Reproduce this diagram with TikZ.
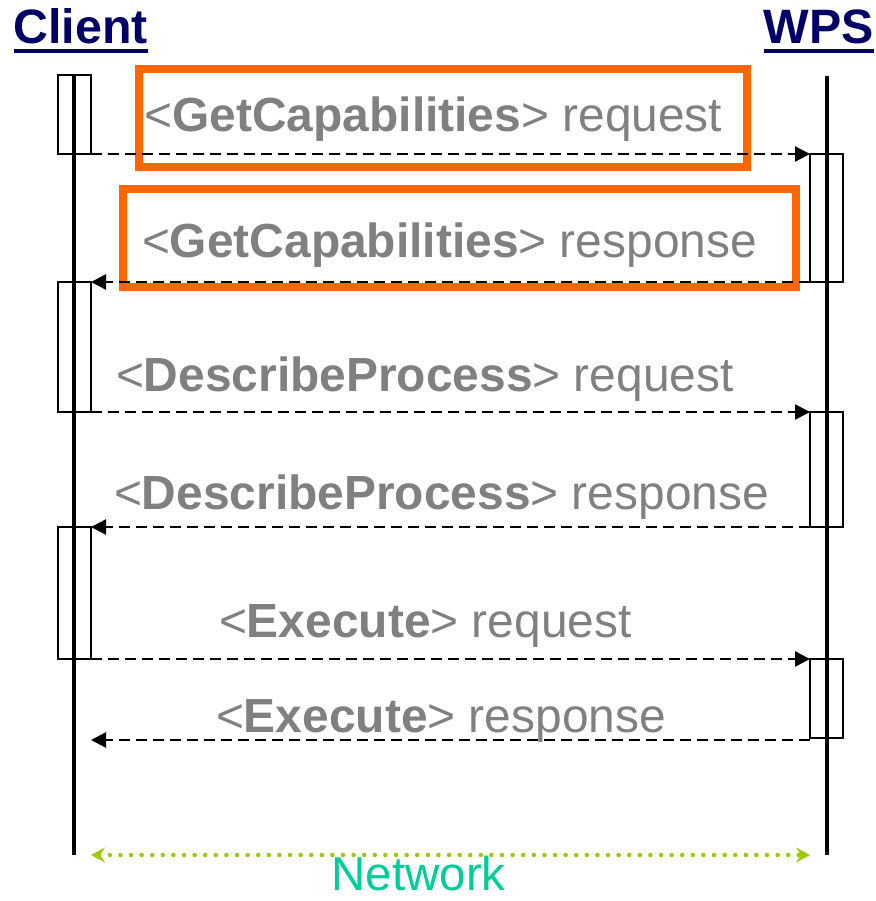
\documentclass[tikz,border=0pt]{standalone}
\usepackage{fontspec}
\setmainfont{Liberation Sans}
\usetikzlibrary{arrows.meta}
\definecolor{navy}{RGB}{0,0,102}
\definecolor{lblgray}{RGB}{128,128,128}
\definecolor{hlorange}{RGB}{255,102,0}
\definecolor{netgreen}{RGB}{153,204,0}
\definecolor{nettext}{RGB}{0,204,153}
\begin{document}
\begin{tikzpicture}[x=1pt,y=-1pt,
  actbox/.style={draw=black, line width=2pt, minimum width=33pt, inner sep=0pt, outer sep=0pt},
  lifeline/.style={line width=4pt},
  msg/.style={line width=2.4pt, dash pattern=on 11pt off 6pt, -{Triangle[length=15pt,width=15pt]}},
  lbl/.style={anchor=base west, inner sep=0pt, outer sep=0pt, text=lblgray, font=\fontsize{47.9}{57}\selectfont},
  titletext/.style={anchor=base west, inner sep=0pt, outer sep=0pt, text=navy, font=\fontsize{48.3}{58}\selectfont\bfseries},
  uline/.style={draw=navy, line width=4pt},
  hlbox/.style={draw=hlorange, line width=8pt, inner sep=0pt, outer sep=0pt},
  netarrow/.style={draw=netgreen, line width=4.5pt, line cap=round, dash pattern=on 0pt off 10.6pt,
    {Stealth[length=14pt,width=15pt,inset=5pt]}-{Stealth[length=14pt,width=15pt,inset=5pt]}},
  nettxt/.style={anchor=base west, inner sep=0pt, outer sep=0pt, text=nettext, font=\fontsize{47.5}{57}\selectfont},
]
\useasboundingbox (0,0) rectangle (875,901);

% titles
\node[titletext] (client) at (13.5,44) {Client};
\node[titletext] (wps) at (763.5,44) {WPS};
\draw[uline] ([yshift=-7pt]client.base west) -- ([yshift=-7pt]client.base east);
\draw[uline] ([yshift=-7pt]wps.base west) -- ([yshift=-7pt]wps.base east);

% activation boxes
\node[actbox, minimum height=79pt]  (c1) at (74.5,114.5) {};
\node[actbox, minimum height=130pt] (c2) at (74.5,347) {};
\node[actbox, minimum height=132pt] (c3) at (74.5,593) {};
\node[actbox, minimum height=128pt] (w1) at (826.5,218) {};
\node[actbox, minimum height=115pt] (w2) at (826.5,469.5) {};
\node[actbox, minimum height=79pt]  (w3) at (826.5,698.5) {};

% lifelines
\coordinate (ctop) at (74,75);
\coordinate (cbot) at (74,855);
\coordinate (wtop) at (827,76);
\coordinate (wbot) at (827,855);
\draw[lifeline] (ctop) -- (cbot);
\draw[lifeline] (wtop) -- (wbot);

% highlight boxes
\node[hlbox, minimum width=608pt, minimum height=98pt] (h1) at (443,118) {};
\node[hlbox, minimum width=672.5pt, minimum height=98pt] (h2) at (459.25,238) {};

% messages
\coordinate (wexec) at (810,740);
\coordinate (cexec) at (91,740);
\draw[msg] (c1.south east) -- (w1.north west);
\draw[msg] (w1.south west) -- (c2.north east);
\draw[msg] (c2.south east) -- (w2.north west);
\draw[msg] (w2.south west) -- (c3.north east);
\draw[msg] (c3.south east) -- (w3.north west);
\draw[msg] (wexec) -- (cexec);

% labels
\node[lbl] (l1) at (144.5,132) {<\textbf{GetCapabilities}> request};
\node[lbl] (l2) at (142,258) {<\textbf{GetCapabilities}> response};
\node[lbl] (l3) at (116,391) {<\textbf{DescribeProcess}> request};
\node[lbl] (l4) at (114,509) {<\textbf{DescribeProcess}> response};
\node[lbl] (l5) at (219,637) {<\textbf{Execute}> request};
\node[lbl] (l6) at (216,732) {<\textbf{Execute}> response};

% network
\coordinate (nl) at (91,855);
\coordinate (nr) at (810,855);
\draw[netarrow] (nl) -- (nr);
\node[nettxt] (net) at (331.5,890) {Network};
\end{tikzpicture}
\end{document}
